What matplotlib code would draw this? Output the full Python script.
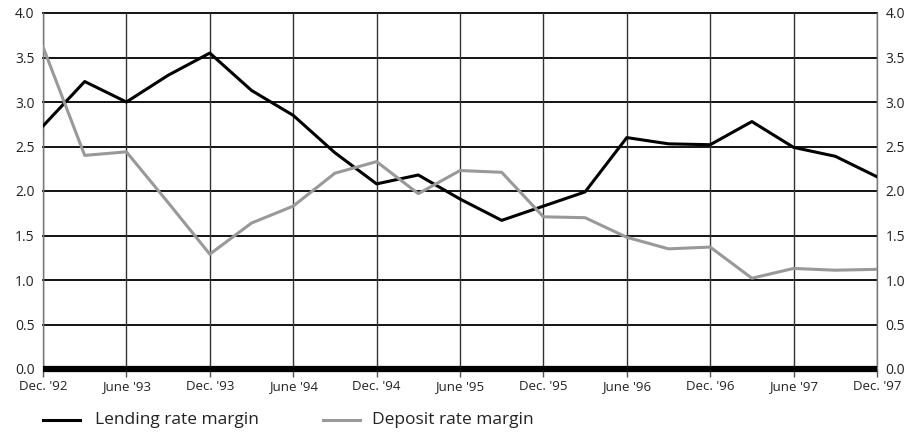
import matplotlib
matplotlib.use("Agg")
import matplotlib.pyplot as plt
from matplotlib.lines import Line2D

plt.rcParams["font.family"] = ["Open Sans", "DejaVu Sans"]

# Quarterly observations, Dec. 1992 - Dec. 1997
quarters = list(range(21))
tick_labels = ["Dec. '92", "June '93", "Dec. '93", "June '94", "Dec. '94", "June '95",
               "Dec. '95", "June '96", "Dec. '96", "June '97", "Dec. '97"]
lending_margin = [2.73, 3.23, 3.00, 3.30, 3.55, 3.13, 2.85, 2.43, 2.08, 2.18, 1.91,
                  1.67, 1.83, 1.99, 2.60, 2.53, 2.52, 2.78, 2.49, 2.39, 2.16]
deposit_margin = [3.62, 2.40, 2.44, 1.87, 1.29, 1.64, 1.83, 2.20, 2.33, 1.97, 2.23,
                  2.21, 1.71, 1.70, 1.48, 1.35, 1.37, 1.02, 1.13, 1.11, 1.12]
y_ticks = [0.0, 0.5, 1.0, 1.5, 2.0, 2.5, 3.0, 3.5, 4.0]

fig = plt.figure(figsize=(9.19, 4.34), dpi=100)
ax = fig.add_axes([43 / 919, 1 - 369 / 434, (877 - 43) / 919, (369 - 13) / 434])

ax.set_xlim(0, 20)
ax.set_ylim(0, 4.0)

# grid
for y in y_ticks[1:]:
    ax.axhline(y, color="black", lw=1.3, zorder=1, clip_on=False)
for x in range(0, 21, 2):
    ax.axvline(x, color="#333333", lw=1.0, zorder=1)
ax.axhline(0, color="black", lw=4.5, zorder=4, solid_capstyle="butt", clip_on=False)

ax.plot(quarters, lending_margin, color="black", lw=2.2, zorder=3)
ax.plot(quarters, deposit_margin, color="#999999", lw=2.2, zorder=3)

for s in ["top", "bottom"]:
    ax.spines[s].set_visible(False)
for s in ["left", "right"]:
    ax.spines[s].set_color("#777777")
    ax.spines[s].set_linewidth(1.0)

ax.set_xticks(range(0, 21, 2))
ax.set_xticklabels(tick_labels)
ax.set_yticks(y_ticks)
ax.set_yticklabels([f"{v:.1f}" for v in y_ticks])
ax.tick_params(axis="x", length=6, width=1.0, color="#555555", pad=2,
               labelsize=9.5, labelcolor="#222222")
ax.tick_params(axis="y", length=0, pad=6, labelsize=10, labelcolor="#222222",
               left=True, right=True, labelleft=True, labelright=True)

# legend
ly = 1 - 420 / 434
fig.add_artist(Line2D([43 / 919, 80 / 919], [ly, ly], color="black", lw=2.2))
fig.text(95 / 919, ly, "Lending rate margin", fontsize=12.5, va="center",
         ha="left", color="#222222")
fig.add_artist(Line2D([323 / 919, 360 / 919], [ly, ly], color="#999999", lw=2.2))
fig.text(372 / 919, ly, "Deposit rate margin", fontsize=12.5, va="center",
         ha="left", color="#222222")

fig.savefig("out.png", dpi=100)
